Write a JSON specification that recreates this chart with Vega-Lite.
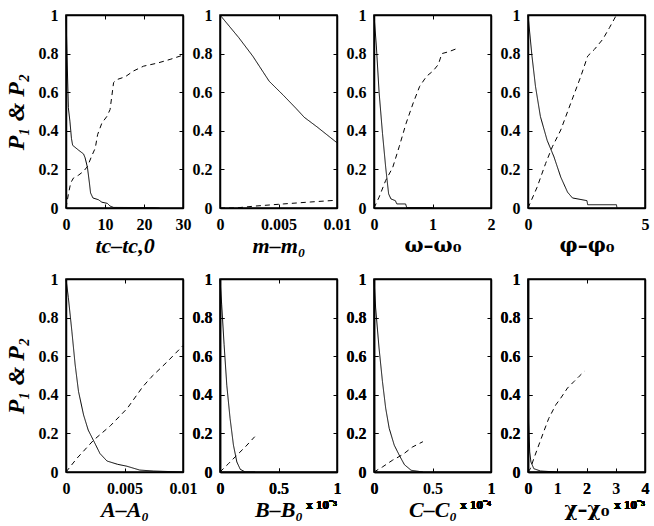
{
  "$schema": "https://vega.github.io/schema/vega-lite/v6.json",
  "background": "white",
  "padding": {"left": 3, "top": 6, "right": 6, "bottom": 2},
  "datasets": {
    "tc": [
      {"x": 0, "p": 1, "c": "P1"}, {"x": 0.25, "p": 0.8, "c": "P1"}, {"x": 0.6, "p": 0.52, "c": "P1"},
      {"x": 1.0, "p": 0.45, "c": "P1"}, {"x": 1.4, "p": 0.36, "c": "P1"}, {"x": 1.7, "p": 0.325, "c": "P1"},
      {"x": 2.3, "p": 0.315, "c": "P1"}, {"x": 3.2, "p": 0.3, "c": "P1"}, {"x": 4.5, "p": 0.28, "c": "P1"},
      {"x": 4.9, "p": 0.26, "c": "P1"}, {"x": 5.5, "p": 0.21, "c": "P1"}, {"x": 6.0, "p": 0.13, "c": "P1"},
      {"x": 6.3, "p": 0.078, "c": "P1"}, {"x": 6.9, "p": 0.052, "c": "P1"}, {"x": 8.3, "p": 0.043, "c": "P1"},
      {"x": 9.2, "p": 0.03, "c": "P1"}, {"x": 10.6, "p": 0.024, "c": "P1"}, {"x": 11.3, "p": 0.01, "c": "P1"},
      {"x": 12.2, "p": 0.003, "c": "P1"}, {"x": 22.5, "p": 0.002, "c": "P1"}, {"x": 24, "p": 0, "c": "P1"},
      {"x": 0, "p": 0, "c": "P2"}, {"x": 0.6, "p": 0.07, "c": "P2"}, {"x": 1.2, "p": 0.13, "c": "P2"},
      {"x": 1.9, "p": 0.155, "c": "P2"}, {"x": 3.2, "p": 0.17, "c": "P2"}, {"x": 4.5, "p": 0.19, "c": "P2"},
      {"x": 5.5, "p": 0.215, "c": "P2"}, {"x": 6.6, "p": 0.27, "c": "P2"}, {"x": 7.5, "p": 0.31, "c": "P2"},
      {"x": 8.1, "p": 0.38, "c": "P2"}, {"x": 9.2, "p": 0.44, "c": "P2"}, {"x": 10.5, "p": 0.475, "c": "P2"},
      {"x": 11.3, "p": 0.51, "c": "P2"}, {"x": 12.2, "p": 0.65, "c": "P2"}, {"x": 13, "p": 0.665, "c": "P2"},
      {"x": 15.2, "p": 0.68, "c": "P2"}, {"x": 17.3, "p": 0.71, "c": "P2"}, {"x": 19.9, "p": 0.735, "c": "P2"},
      {"x": 23.3, "p": 0.75, "c": "P2"}, {"x": 26.7, "p": 0.77, "c": "P2"}, {"x": 29.7, "p": 0.79, "c": "P2"}
    ],
    "m": [
      {"x": 0, "p": 1, "c": "P1"}, {"x": 0.0016, "p": 0.883, "c": "P1"}, {"x": 0.0028, "p": 0.787, "c": "P1"},
      {"x": 0.0042, "p": 0.657, "c": "P1"}, {"x": 0.0054, "p": 0.585, "c": "P1"}, {"x": 0.0065, "p": 0.516, "c": "P1"},
      {"x": 0.0072, "p": 0.47, "c": "P1"}, {"x": 0.0083, "p": 0.42, "c": "P1"}, {"x": 0.01, "p": 0.338, "c": "P1"},
      {"x": 0, "p": 0, "c": "P2"}, {"x": 0.0013, "p": 0, "c": "P2"}, {"x": 0.003, "p": 0.01, "c": "P2"},
      {"x": 0.0054, "p": 0.021, "c": "P2"}, {"x": 0.0077, "p": 0.031, "c": "P2"}, {"x": 0.0099, "p": 0.04, "c": "P2"}
    ],
    "w": [
      {"x": 0, "p": 1, "c": "P1"}, {"x": 0.04, "p": 0.84, "c": "P1"}, {"x": 0.087, "p": 0.6, "c": "P1"},
      {"x": 0.145, "p": 0.387, "c": "P1"}, {"x": 0.2, "p": 0.21, "c": "P1"}, {"x": 0.25, "p": 0.073, "c": "P1"},
      {"x": 0.29, "p": 0.047, "c": "P1"}, {"x": 0.365, "p": 0.038, "c": "P1"}, {"x": 0.39, "p": 0.021, "c": "P1"},
      {"x": 0.54, "p": 0.021, "c": "P1"}, {"x": 0.56, "p": 0.002, "c": "P1"}, {"x": 1.0, "p": 0.002, "c": "P1"},
      {"x": 0, "p": 0, "c": "P2"}, {"x": 0.087, "p": 0.056, "c": "P2"}, {"x": 0.2, "p": 0.143, "c": "P2"},
      {"x": 0.32, "p": 0.21, "c": "P2"}, {"x": 0.43, "p": 0.317, "c": "P2"}, {"x": 0.55, "p": 0.44, "c": "P2"},
      {"x": 0.67, "p": 0.544, "c": "P2"}, {"x": 0.78, "p": 0.63, "c": "P2"}, {"x": 0.9, "p": 0.683, "c": "P2"},
      {"x": 1.01, "p": 0.71, "c": "P2"}, {"x": 1.1, "p": 0.744, "c": "P2"}, {"x": 1.16, "p": 0.8, "c": "P2"},
      {"x": 1.28, "p": 0.81, "c": "P2"}, {"x": 1.45, "p": 0.83, "c": "P2"}
    ],
    "phi": [
      {"x": 0, "p": 1, "c": "P1"}, {"x": 0.17, "p": 0.787, "c": "P1"}, {"x": 0.32, "p": 0.63, "c": "P1"},
      {"x": 0.53, "p": 0.474, "c": "P1"}, {"x": 0.82, "p": 0.35, "c": "P1"}, {"x": 1.11, "p": 0.265, "c": "P1"},
      {"x": 1.4, "p": 0.16, "c": "P1"}, {"x": 1.69, "p": 0.082, "c": "P1"}, {"x": 1.9, "p": 0.052, "c": "P1"},
      {"x": 2.26, "p": 0.044, "c": "P1"}, {"x": 2.52, "p": 0.038, "c": "P1"}, {"x": 2.55, "p": 0.017, "c": "P1"},
      {"x": 3.78, "p": 0.017, "c": "P1"}, {"x": 3.8, "p": 0.002, "c": "P1"},
      {"x": 0, "p": 0, "c": "P2"}, {"x": 0.39, "p": 0.108, "c": "P2"}, {"x": 0.75, "p": 0.23, "c": "P2"},
      {"x": 1.04, "p": 0.317, "c": "P2"}, {"x": 1.4, "p": 0.404, "c": "P2"}, {"x": 1.83, "p": 0.544, "c": "P2"},
      {"x": 2.26, "p": 0.683, "c": "P2"}, {"x": 2.55, "p": 0.787, "c": "P2"}, {"x": 2.84, "p": 0.822, "c": "P2"},
      {"x": 3.2, "p": 0.875, "c": "P2"}, {"x": 3.49, "p": 0.936, "c": "P2"}, {"x": 3.78, "p": 1.0, "c": "P2"}
    ],
    "a": [
      {"x": 0, "p": 1, "c": "P1"}, {"x": 0.0002, "p": 0.904, "c": "P1"}, {"x": 0.0005, "p": 0.73, "c": "P1"},
      {"x": 0.00078, "p": 0.557, "c": "P1"}, {"x": 0.00107, "p": 0.417, "c": "P1"}, {"x": 0.0015, "p": 0.296, "c": "P1"},
      {"x": 0.0019, "p": 0.217, "c": "P1"}, {"x": 0.0024, "p": 0.157, "c": "P1"}, {"x": 0.0029, "p": 0.096, "c": "P1"},
      {"x": 0.0035, "p": 0.057, "c": "P1"}, {"x": 0.0044, "p": 0.04, "c": "P1"}, {"x": 0.0052, "p": 0.03, "c": "P1"},
      {"x": 0.0063, "p": 0.01, "c": "P1"}, {"x": 0.0075, "p": 0.005, "c": "P1"}, {"x": 0.01, "p": 0, "c": "P1"},
      {"x": 0, "p": 0, "c": "P2"}, {"x": 0.00092, "p": 0.07, "c": "P2"}, {"x": 0.00236, "p": 0.165, "c": "P2"},
      {"x": 0.0038, "p": 0.24, "c": "P2"}, {"x": 0.00524, "p": 0.33, "c": "P2"}, {"x": 0.00654, "p": 0.44, "c": "P2"},
      {"x": 0.00726, "p": 0.49, "c": "P2"}, {"x": 0.0087, "p": 0.574, "c": "P2"}, {"x": 0.01, "p": 0.655, "c": "P2"}
    ],
    "b": [
      {"x": 0, "p": 1, "c": "P1"}, {"x": 0.014, "p": 0.87, "c": "P1"}, {"x": 0.035, "p": 0.66, "c": "P1"},
      {"x": 0.058, "p": 0.45, "c": "P1"}, {"x": 0.086, "p": 0.278, "c": "P1"}, {"x": 0.115, "p": 0.139, "c": "P1"},
      {"x": 0.144, "p": 0.052, "c": "P1"}, {"x": 0.173, "p": 0.014, "c": "P1"}, {"x": 0.216, "p": 0, "c": "P1"},
      {"x": 0.3, "p": 0, "c": "P1"},
      {"x": 0, "p": 0, "c": "P2"}, {"x": 0.072, "p": 0.043, "c": "P2"}, {"x": 0.144, "p": 0.087, "c": "P2"},
      {"x": 0.216, "p": 0.13, "c": "P2"}, {"x": 0.297, "p": 0.183, "c": "P2"}
    ],
    "cc": [
      {"x": 0, "p": 1, "c": "P1"}, {"x": 0.014, "p": 0.85, "c": "P1"}, {"x": 0.043, "p": 0.643, "c": "P1"},
      {"x": 0.072, "p": 0.47, "c": "P1"}, {"x": 0.1, "p": 0.33, "c": "P1"}, {"x": 0.13, "p": 0.226, "c": "P1"},
      {"x": 0.173, "p": 0.139, "c": "P1"}, {"x": 0.216, "p": 0.087, "c": "P1"}, {"x": 0.26, "p": 0.038, "c": "P1"},
      {"x": 0.317, "p": 0.009, "c": "P1"}, {"x": 0.418, "p": 0, "c": "P1"},
      {"x": 0, "p": 0, "c": "P2"}, {"x": 0.072, "p": 0.026, "c": "P2"}, {"x": 0.158, "p": 0.061, "c": "P2"},
      {"x": 0.245, "p": 0.09, "c": "P2"}, {"x": 0.33, "p": 0.13, "c": "P2"}, {"x": 0.418, "p": 0.157, "c": "P2"}
    ],
    "chi": [
      {"x": 0, "p": 1, "c": "P1"}, {"x": 0.012, "p": 0.6, "c": "P1"}, {"x": 0.023, "p": 0.26, "c": "P1"},
      {"x": 0.058, "p": 0.104, "c": "P1"}, {"x": 0.1, "p": 0.052, "c": "P1"}, {"x": 0.2, "p": 0.017, "c": "P1"},
      {"x": 0.43, "p": 0.005, "c": "P1"}, {"x": 1.0, "p": 0, "c": "P1"},
      {"x": 0, "p": 0, "c": "P2"}, {"x": 0.08, "p": 0.017, "c": "P2"}, {"x": 0.2, "p": 0.07, "c": "P2"},
      {"x": 0.37, "p": 0.14, "c": "P2"}, {"x": 0.54, "p": 0.21, "c": "P2"}, {"x": 0.71, "p": 0.278, "c": "P2"},
      {"x": 0.95, "p": 0.348, "c": "P2"}, {"x": 1.12, "p": 0.383, "c": "P2"}, {"x": 1.35, "p": 0.435, "c": "P2"},
      {"x": 1.58, "p": 0.47, "c": "P2"}, {"x": 1.75, "p": 0.496, "c": "P2"}, {"x": 1.93, "p": 0.522, "c": "P2"}
    ]
  },
  "columns": 4,
  "spacing": {"row": 71, "column": 37},
  "bounds": "flush",
  "concat": [
    {
      "width": 117, "height": 193,
      "data": {"name": "tc"},
      "layer": [
        {
          "mark": {"type": "line", "color": "black", "strokeWidth": 1},
          "encoding": {
            "x": {"field": "x", "type": "quantitative", "scale": {"domain": [0, 30], "nice": false},
                  "axis": {"values": [0, 10, 20, 30], "title": "tc–tc,0"}},
            "y": {"field": "p", "type": "quantitative", "scale": {"domain": [0, 1], "nice": false},
                  "axis": {"values": [0, 0.2, 0.4, 0.6, 0.8, 1], "title": "P₁ & P₂", "titleFontSize": 24, "titlePadding": 10}},
            "strokeDash": {"field": "c", "type": "nominal", "legend": null,
                           "scale": {"domain": ["P1", "P2"], "range": [[1, 0], [5, 4]]}}
          }
        },
        {
          "mark": {"type": "line", "opacity": 0},
          "encoding": {
            "x": {"field": "x", "type": "quantitative",
                  "axis": {"orient": "top", "labels": false, "title": null, "values": [0, 10, 20, 30]}},
            "y": {"field": "p", "type": "quantitative",
                  "axis": {"orient": "right", "labels": false, "title": null, "values": [0, 0.2, 0.4, 0.6, 0.8, 1]}},
            "detail": {"field": "c"}
          }
        }
      ],
      "resolve": {"axis": {"x": "independent", "y": "independent"}}
    },
    {
      "width": 117, "height": 193,
      "data": {"name": "m"},
      "layer": [
        {
          "mark": {"type": "line", "color": "black", "strokeWidth": 1},
          "encoding": {
            "x": {"field": "x", "type": "quantitative", "scale": {"domain": [0, 0.01], "nice": false},
                  "axis": {"values": [0, 0.005, 0.01], "title": "m–m₀"}},
            "y": {"field": "p", "type": "quantitative", "scale": {"domain": [0, 1], "nice": false},
                  "axis": {"values": [0, 0.2, 0.4, 0.6, 0.8, 1], "title": null}},
            "strokeDash": {"field": "c", "type": "nominal", "legend": null,
                           "scale": {"domain": ["P1", "P2"], "range": [[1, 0], [5, 4]]}}
          }
        },
        {
          "mark": {"type": "line", "opacity": 0},
          "encoding": {
            "x": {"field": "x", "type": "quantitative",
                  "axis": {"orient": "top", "labels": false, "title": null, "values": [0, 0.005, 0.01]}},
            "y": {"field": "p", "type": "quantitative",
                  "axis": {"orient": "right", "labels": false, "title": null, "values": [0, 0.2, 0.4, 0.6, 0.8, 1]}},
            "detail": {"field": "c"}
          }
        }
      ],
      "resolve": {"axis": {"x": "independent", "y": "independent"}}
    },
    {
      "width": 117, "height": 193,
      "data": {"name": "w"},
      "layer": [
        {
          "mark": {"type": "line", "color": "black", "strokeWidth": 1},
          "encoding": {
            "x": {"field": "x", "type": "quantitative", "scale": {"domain": [0, 2], "nice": false},
                  "axis": {"values": [0, 1, 2], "title": "ω–ω₀", "titleFontStyle": "normal", "titleFont": "DejaVu Serif", "titleFontSize": 20}},
            "y": {"field": "p", "type": "quantitative", "scale": {"domain": [0, 1], "nice": false},
                  "axis": {"values": [0, 0.2, 0.4, 0.6, 0.8, 1], "title": null}},
            "strokeDash": {"field": "c", "type": "nominal", "legend": null,
                           "scale": {"domain": ["P1", "P2"], "range": [[1, 0], [5, 4]]}}
          }
        },
        {
          "mark": {"type": "line", "opacity": 0},
          "encoding": {
            "x": {"field": "x", "type": "quantitative",
                  "axis": {"orient": "top", "labels": false, "title": null, "values": [0, 1, 2]}},
            "y": {"field": "p", "type": "quantitative",
                  "axis": {"orient": "right", "labels": false, "title": null, "values": [0, 0.2, 0.4, 0.6, 0.8, 1]}},
            "detail": {"field": "c"}
          }
        }
      ],
      "resolve": {"axis": {"x": "independent", "y": "independent"}}
    },
    {
      "width": 117, "height": 193,
      "data": {"name": "phi"},
      "layer": [
        {
          "mark": {"type": "line", "color": "black", "strokeWidth": 1},
          "encoding": {
            "x": {"field": "x", "type": "quantitative", "scale": {"domain": [0, 5], "nice": false},
                  "axis": {"values": [0, 5], "title": "φ–φ₀", "titleFontStyle": "normal", "titleFont": "DejaVu Serif", "titleFontSize": 20}},
            "y": {"field": "p", "type": "quantitative", "scale": {"domain": [0, 1], "nice": false},
                  "axis": {"values": [0, 0.2, 0.4, 0.6, 0.8, 1], "title": null}},
            "strokeDash": {"field": "c", "type": "nominal", "legend": null,
                           "scale": {"domain": ["P1", "P2"], "range": [[1, 0], [5, 4]]}}
          }
        },
        {
          "mark": {"type": "line", "opacity": 0},
          "encoding": {
            "x": {"field": "x", "type": "quantitative",
                  "axis": {"orient": "top", "labels": false, "title": null, "values": [0, 5]}},
            "y": {"field": "p", "type": "quantitative",
                  "axis": {"orient": "right", "labels": false, "title": null, "values": [0, 0.2, 0.4, 0.6, 0.8, 1]}},
            "detail": {"field": "c"}
          }
        }
      ],
      "resolve": {"axis": {"x": "independent", "y": "independent"}}
    },
    {
      "width": 117, "height": 193,
      "data": {"name": "a"},
      "layer": [
        {
          "mark": {"type": "line", "color": "black", "strokeWidth": 1},
          "encoding": {
            "x": {"field": "x", "type": "quantitative", "scale": {"domain": [0, 0.01], "nice": false},
                  "axis": {"values": [0, 0.005, 0.01], "title": "A–A₀"}},
            "y": {"field": "p", "type": "quantitative", "scale": {"domain": [0, 1], "nice": false},
                  "axis": {"values": [0, 0.2, 0.4, 0.6, 0.8, 1], "title": "P₁ & P₂", "titleFontSize": 24, "titlePadding": 10}},
            "strokeDash": {"field": "c", "type": "nominal", "legend": null,
                           "scale": {"domain": ["P1", "P2"], "range": [[1, 0], [5, 4]]}}
          }
        },
        {
          "mark": {"type": "line", "opacity": 0},
          "encoding": {
            "x": {"field": "x", "type": "quantitative",
                  "axis": {"orient": "top", "labels": false, "title": null, "values": [0, 0.005, 0.01]}},
            "y": {"field": "p", "type": "quantitative",
                  "axis": {"orient": "right", "labels": false, "title": null, "values": [0, 0.2, 0.4, 0.6, 0.8, 1]}},
            "detail": {"field": "c"}
          }
        }
      ],
      "resolve": {"axis": {"x": "independent", "y": "independent"}}
    },
    {
      "width": 117, "height": 193,
      "data": {"name": "b"},
      "layer": [
        {
          "mark": {"type": "line", "color": "black", "strokeWidth": 1},
          "encoding": {
            "x": {"field": "x", "type": "quantitative", "scale": {"domain": [0, 1], "nice": false},
                  "axis": {"values": [0, 0.5, 1], "title": "B–B₀"}},
            "y": {"field": "p", "type": "quantitative", "scale": {"domain": [0, 1], "nice": false},
                  "axis": {"values": [0, 0.2, 0.4, 0.6, 0.8, 1], "title": null}},
            "strokeDash": {"field": "c", "type": "nominal", "legend": null,
                           "scale": {"domain": ["P1", "P2"], "range": [[1, 0], [5, 4]]}}
          }
        },
        {
          "mark": {"type": "line", "opacity": 0},
          "encoding": {
            "x": {"field": "x", "type": "quantitative",
                  "axis": {"orient": "top", "labels": false, "title": null, "values": [0, 0.5, 1]}},
            "y": {"field": "p", "type": "quantitative",
                  "axis": {"orient": "right", "labels": false, "title": null, "values": [0, 0.2, 0.4, 0.6, 0.8, 1]}},
            "detail": {"field": "c"}
          }
        },
        {
          "mark": {"type": "text", "text": "x 10⁻³", "align": "right", "baseline": "alphabetic", "dy": 37, "dx": 0,
                   "font": "Liberation Serif", "fontWeight": "bold", "fontSize": 13, "color": "black"},
          "encoding": {"x": {"datum": 1}, "y": {"datum": 0}}
        }
      ],
      "resolve": {"axis": {"x": "independent", "y": "independent"}}
    },
    {
      "width": 117, "height": 193,
      "data": {"name": "cc"},
      "layer": [
        {
          "mark": {"type": "line", "color": "black", "strokeWidth": 1},
          "encoding": {
            "x": {"field": "x", "type": "quantitative", "scale": {"domain": [0, 1], "nice": false},
                  "axis": {"values": [0, 1], "title": "C–C₀"}},
            "y": {"field": "p", "type": "quantitative", "scale": {"domain": [0, 1], "nice": false},
                  "axis": {"values": [0, 0.2, 0.4, 0.6, 0.8, 1], "title": null}},
            "strokeDash": {"field": "c", "type": "nominal", "legend": null,
                           "scale": {"domain": ["P1", "P2"], "range": [[1, 0], [5, 4]]}}
          }
        },
        {
          "mark": {"type": "line", "opacity": 0},
          "encoding": {
            "x": {"field": "x", "type": "quantitative",
                  "axis": {"orient": "top", "labels": false, "title": null, "values": [0, 1]}},
            "y": {"field": "p", "type": "quantitative",
                  "axis": {"orient": "right", "labels": false, "title": null, "values": [0, 0.2, 0.4, 0.6, 0.8, 1]}},
            "detail": {"field": "c"}
          }
        },
        {
          "mark": {"type": "text", "text": "x 10⁻⁴", "align": "right", "baseline": "alphabetic", "dy": 37, "dx": 0,
                   "font": "Liberation Serif", "fontWeight": "bold", "fontSize": 13, "color": "black"},
          "encoding": {"x": {"datum": 1}, "y": {"datum": 0}}
        }
      ],
      "resolve": {"axis": {"x": "independent", "y": "independent"}}
    },
    {
      "width": 117, "height": 193,
      "data": {"name": "chi"},
      "layer": [
        {
          "mark": {"type": "line", "color": "black", "strokeWidth": 1},
          "encoding": {
            "x": {"field": "x", "type": "quantitative", "scale": {"domain": [0, 4], "nice": false},
                  "axis": {"values": [0, 2, 4], "title": "χ–χ₀", "titleFontStyle": "normal", "titleFont": "DejaVu Serif", "titleFontSize": 20}},
            "y": {"field": "p", "type": "quantitative", "scale": {"domain": [0, 1], "nice": false},
                  "axis": {"values": [0, 0.2, 0.4, 0.6, 0.8, 1], "title": null}},
            "strokeDash": {"field": "c", "type": "nominal", "legend": null,
                           "scale": {"domain": ["P1", "P2"], "range": [[1, 0], [5, 4]]}}
          }
        },
        {
          "mark": {"type": "line", "opacity": 0},
          "encoding": {
            "x": {"field": "x", "type": "quantitative",
                  "axis": {"orient": "top", "labels": false, "title": null, "values": [0, 2, 4]}},
            "y": {"field": "p", "type": "quantitative",
                  "axis": {"orient": "right", "labels": false, "title": null, "values": [0, 0.2, 0.4, 0.6, 0.8, 1]}},
            "detail": {"field": "c"}
          }
        },
        {
          "mark": {"type": "text", "text": "x 10⁻³", "align": "right", "baseline": "alphabetic", "dy": 37, "dx": 0,
                   "font": "Liberation Serif", "fontWeight": "bold", "fontSize": 13, "color": "black"},
          "encoding": {"x": {"datum": 4}, "y": {"datum": 0}}
        }
      ],
      "resolve": {"axis": {"x": "independent", "y": "independent"}}
    }
  ],
  "config": {
    "view": {"stroke": "black", "strokeWidth": 1.5},
    "axis": {
      "grid": false,
      "domainColor": "black",
      "domainWidth": 1.5,
      "tickColor": "black",
      "tickWidth": 1,
      "tickSize": -4,
      "labelPadding": 12,
      "labelFont": "Liberation Serif",
      "labelFontWeight": "bold",
      "labelFontSize": 16,
      "labelColor": "black",
      "labelFlush": false,
      "format": "~r",
      "titleFont": "Liberation Serif",
      "titleFontWeight": "bold",
      "titleFontStyle": "italic",
      "titleFontSize": 22,
      "titleColor": "black",
      "titlePadding": 3
    }
  }
}
